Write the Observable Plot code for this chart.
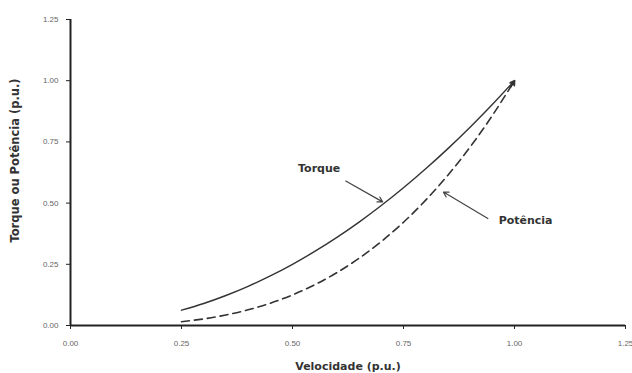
<!DOCTYPE html>
<html>
<head>
<meta charset="utf-8">
<script src="https://cdn.jsdelivr.net/npm/d3@7"></script>
<script src="https://cdn.jsdelivr.net/npm/@observablehq/plot@0.6"></script>
<style>
  html, body { margin: 0; padding: 0; background: #fff; }
  svg { display: block; }
</style>
</head>
<body>
<div id="chart"></div>
<script>
// Values
const velocidade = [0.25, 0.30, 0.35, 0.40, 0.45, 0.50, 0.55, 0.60, 0.65, 0.70, 0.75, 0.80, 0.85, 0.90, 0.95, 1.00];
const torque     = [0.0625, 0.090, 0.1225, 0.160, 0.2025, 0.250, 0.3025, 0.360, 0.4225, 0.490, 0.5625, 0.640, 0.7225, 0.810, 0.9025, 1.000];
const potencia   = [0.0156, 0.027, 0.0429, 0.064, 0.0911, 0.125, 0.1664, 0.216, 0.2746, 0.343, 0.4219, 0.512, 0.6141, 0.729, 0.8574, 1.000];
const xTicks = [0, 0.25, 0.5, 0.75, 1.0, 1.25];
const yTicks = [0, 0.25, 0.5, 0.75, 1.0, 1.25];
const xTitle = "Velocidade (p.u.)";
const yTitle = "Torque ou Potência (p.u.)";
const labels = [
  {text: "Torque", v: 0.56, y: 0.64},
  {text: "Potência", v: 1.025, y: 0.43}
];
const arrows = [
  {x1: 0.62, y1: 0.59, x2: 0.703, y2: 0.505},
  {x1: 0.94, y1: 0.437, x2: 0.84, y2: 0.545}
];

const torqueData = velocidade.map((v, i) => ({v, y: torque[i]}));
const potenciaData = velocidade.map((v, i) => ({v, y: potencia[i]}));
const n = velocidade.length;
const endSeg = [{x1: velocidade[n - 2], y1: potencia[n - 2], x2: velocidade[n - 1], y2: potencia[n - 1]}];

const fmt = d3.format(".2f");
const titleFont = "'DejaVu Sans', Verdana, sans-serif";

const chart = Plot.plot({
  width: 632,
  height: 373,
  marginLeft: 70,
  marginRight: 7,
  marginTop: 19,
  marginBottom: 48,
  style: {fontFamily: "Arial, 'Liberation Sans', sans-serif", background: "#fff"},
  x: {domain: [0, 1.25]},
  y: {domain: [0, 1.25]},
  marks: [
    Plot.axisX({ticks: xTicks, tickFormat: fmt, tickSize: 4, tickPadding: 11, fontSize: 8, fill: "#666", stroke: "#222", label: null}),
    Plot.axisY({ticks: yTicks, tickFormat: fmt, tickSize: 4, tickPadding: 8, fontSize: 8, fill: "#666", stroke: "#222", label: null}),
    Plot.ruleX([0], {stroke: "#222", strokeWidth: 2}),
    Plot.ruleY([0], {stroke: "#222", strokeWidth: 2}),
    Plot.line(torqueData, {x: "v", y: "y", curve: "natural", stroke: "#333", strokeWidth: 1.4}),
    Plot.line(potenciaData, {x: "v", y: "y", curve: "natural", stroke: "#333", strokeWidth: 1.6, strokeDasharray: "8,5"}),
    Plot.arrow(endSeg, {x1: "x1", y1: "y1", x2: "x2", y2: "y2", stroke: "#333", strokeWidth: 1.8, headLength: 4, insetStart: 34, bend: false}),
    Plot.arrow(arrows, {x1: "x1", y1: "y1", x2: "x2", y2: "y2", stroke: "#444", strokeWidth: 1.2, headLength: 7, bend: false}),
    Plot.text(labels, {x: "v", y: "y", text: "text", fontSize: 11, fontWeight: "bold", fill: "#333", fontFamily: titleFont}),
    Plot.text([xTitle], {frameAnchor: "bottom", dy: 44, text: d => d, fontSize: 11, fontWeight: "bold", fill: "#333", fontFamily: titleFont}),
    Plot.text([yTitle], {frameAnchor: "left", textAnchor: "middle", dx: -55, dy: -12, rotate: -90, text: d => d, fontSize: 11.5, fontWeight: "bold", fill: "#333", fontFamily: titleFont})
  ]
});
document.getElementById("chart").appendChild(chart);
</script>
</body>
</html>
